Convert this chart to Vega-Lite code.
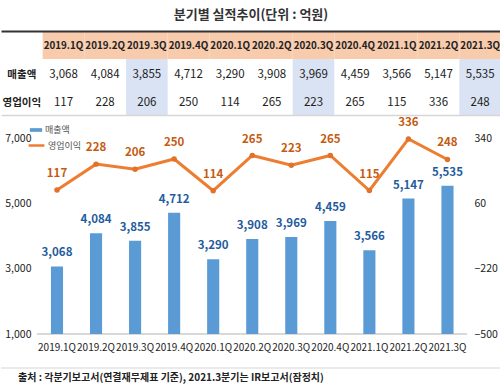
{
  "$schema": "https://vega.github.io/schema/vega-lite/v6.json",
  "padding": {"top": 9, "left": 0, "right": 0, "bottom": 0},
  "background": "white",
  "config": {
    "font": "Noto Sans CJK KR",
    "view": {"stroke": null},
    "axis": {"grid": false}
  },
  "title": {"text": "분기별 실적추이(단위 : 억원)", "fontSize": 13, "fontWeight": "bold", "color": "#333", "anchor": "middle", "offset": 9, "font": "Noto Sans CJK KR"},
  "datasets": {
    "tbl": [
      {"q": "2019.1Q", "매출액": 3068, "영업이익": 117},
      {"q": "2019.2Q", "매출액": 4084, "영업이익": 228},
      {"q": "2019.3Q", "매출액": 3855, "영업이익": 206},
      {"q": "2019.4Q", "매출액": 4712, "영업이익": 250},
      {"q": "2020.1Q", "매출액": 3290, "영업이익": 114},
      {"q": "2020.2Q", "매출액": 3908, "영업이익": 265},
      {"q": "2020.3Q", "매출액": 3969, "영업이익": 223},
      {"q": "2020.4Q", "매출액": 4459, "영업이익": 265},
      {"q": "2021.1Q", "매출액": 3566, "영업이익": 115},
      {"q": "2021.2Q", "매출액": 5147, "영업이익": 336},
      {"q": "2021.3Q", "매출액": 5535, "영업이익": 248}
    ],
    "foot": [{"t": "출처 : 각분기보고서(연결재무제표 기준), 2021.3분기는 IR보고서(잠정치)", "x": 17, "y": 15, "ly": 25}]
  },
  "spacing": 1,
  "resolve": {"legend": {"fill": "independent", "stroke": "independent"}},
  "vconcat": [
    {
      "width": 500,
      "height": 84,
      "data": {"name": "tbl"},
      "layer": [
        {
          "mark": {"type": "rect", "fill": "#f8cbad"},
          "encoding": {
            "x": {"field": "q", "type": "nominal", "sort": null,
              "scale": {"domain": [" ", "2019.1Q", "2019.2Q", "2019.3Q", "2019.4Q", "2020.1Q", "2020.2Q", "2020.3Q", "2020.4Q", "2021.1Q", "2021.2Q", "2021.3Q"], "paddingInner": 0, "paddingOuter": 0},
              "axis": {"orient": "top", "domain": true, "domainColor": "#333", "domainWidth": 2, "ticks": false, "labels": false, "title": null}},
            "y": {"datum": "h", "type": "nominal", "scale": {"domain": ["h", "매출액", "영업이익"], "paddingInner": 0, "paddingOuter": 0}, "axis": null}
          }
        },
        {
          "transform": [{"filter": "indexof(datum.q, '3Q') > 0"}, {"fold": ["매출액", "영업이익"], "as": ["row", "val"]}],
          "mark": {"type": "rect", "fill": "#dae3f3"},
          "encoding": {
            "x": {"field": "q", "type": "nominal", "sort": null,
              "axis": {"orient": "bottom", "domain": true, "domainColor": "#d6d6d6", "domainWidth": 1.5, "ticks": false, "labels": false, "title": null}},
            "y": {"field": "row", "type": "nominal", "axis": null}
          }
        },
        {
          "mark": {"type": "text", "fontSize": 9.8, "fontWeight": "bold", "color": "#222", "dy": 1},
          "encoding": {
            "x": {"field": "q", "type": "nominal", "sort": null, "axis": null},
            "y": {"datum": "h", "type": "nominal"},
            "text": {"field": "q"}
          }
        },
        {
          "transform": [{"fold": ["매출액", "영업이익"], "as": ["row", "val"]}],
          "mark": {"type": "text", "fontSize": 11.5, "color": "#222", "dy": 2},
          "encoding": {
            "x": {"field": "q", "type": "nominal", "sort": null, "axis": null},
            "y": {"field": "row", "type": "nominal"},
            "text": {"field": "val", "format": ","}
          }
        },
        {
          "transform": [{"filter": "datum.q == '2019.1Q'"}, {"fold": ["매출액", "영업이익"], "as": ["row", "val"]}],
          "mark": {"type": "text", "fontSize": 10.5, "fontWeight": "bold", "color": "#222", "dy": 2},
          "encoding": {
            "x": {"datum": " ", "type": "nominal", "axis": null},
            "y": {"field": "row", "type": "nominal"},
            "text": {"field": "row"}
          }
        }
      ],
      "resolve": {"axis": {"x": "independent"}}
    },
    {
      "width": 466,
      "height": 196,
      "data": {"name": "tbl"},
      "encoding": {
        "x": {"field": "q", "type": "nominal", "sort": null,
          "scale": {"domain": ["2019.1Q", "2019.2Q", "2019.3Q", "2019.4Q", "2020.1Q", "2020.2Q", "2020.3Q", "2020.4Q", "2021.1Q", "2021.2Q", "2021.3Q"], "paddingInner": 0, "paddingOuter": 0.467, "align": 1},
          "axis": {"title": null, "labelAngle": 0, "ticks": false, "domain": false, "labelFontSize": 10, "labelColor": "#222", "labelPadding": 8}}
      },
      "layer": [
        {
          "encoding": {
            "y": {"field": "매출액", "type": "quantitative",
              "scale": {"domain": [1000, 7000], "zero": false, "nice": false},
              "axis": {"title": null, "values": [1000, 3000, 5000, 7000], "format": ",d", "ticks": false, "domain": false, "labelFontSize": 10.5, "labelColor": "#222", "labelPadding": 6, "offset": -36}}
          },
          "layer": [
            {
              "mark": {"type": "rule", "color": "#d9d9d9", "strokeWidth": 1.5},
              "encoding": {
                "x": {"datum": "2019.1Q", "bandPosition": 0},
                "x2": {"datum": "2021.3Q", "bandPosition": 1},
                "y": {"datum": 1000}
              }
            },
            {
              "mark": {"type": "bar", "width": {"band": 0.31}},
              "encoding": {
                "y2": {"datum": 1000},
                "fill": {"datum": "매출액", "type": "nominal",
                  "scale": {"range": ["#5b9bd5"]},
                  "legend": {"title": null, "orient": "none", "legendX": 28, "legendY": -15, "symbolType": "M-1,-0.3L1,-0.3L1,0.3L-1,0.3Z", "symbolSize": 150, "labelFontSize": 9, "labelColor": "#555", "labelOffset": 2, "padding": 0}}
              }
            },
            {
              "mark": {"type": "text", "dy": -13, "fontSize": 11.5, "fontWeight": "bold", "color": "#1f5c9e"},
              "encoding": {"text": {"field": "매출액", "format": ","}}
            }
          ]
        },
        {
          "encoding": {
            "y": {"field": "영업이익", "type": "quantitative",
              "scale": {"domain": [-500, 340], "zero": false, "nice": false},
              "axis": {"orient": "right", "title": null, "values": [-500, -220, 60, 340], "format": "d", "ticks": false, "domain": false, "labelFontSize": 10.5, "labelColor": "#222", "labelPadding": 7}}
          },
          "layer": [
            {
              "mark": {"type": "line", "strokeWidth": 3},
              "encoding": {
                "stroke": {"datum": "영업이익", "type": "nominal", "scale": {"range": ["#ed7d31"]},
                  "legend": {"title": null, "orient": "none", "legendX": 26, "legendY": -2, "symbolType": "stroke", "symbolStrokeWidth": 2.5, "symbolSize": 250, "labelFontSize": 9, "labelColor": "#555", "labelOffset": 2, "padding": 0}}
              }
            },
            {
              "mark": {"type": "circle", "size": 30, "color": "#e0722a", "opacity": 1},
              "encoding": {}
            },
            {
              "mark": {"type": "text", "dy": -16, "fontSize": 11.5, "fontWeight": "bold", "color": "#c55a11"},
              "encoding": {"text": {"field": "영업이익"}}
            }
          ]
        }
      ],
      "resolve": {"scale": {"y": "independent"}}
    },
    {
      "width": 500,
      "height": 40,
      "data": {"name": "foot"},
      "layer": [
        {
          "mark": {"type": "rule", "color": "#e3e3e3", "strokeWidth": 1.5},
          "encoding": {
            "y": {"field": "ly", "type": "quantitative", "scale": {"domain": [0, 40], "nice": false, "zero": false}, "axis": null}
          }
        },
        {
          "mark": {"type": "text", "align": "left", "fontSize": 10, "fontWeight": "bold", "color": "#222"},
          "encoding": {
            "x": {"field": "x", "type": "quantitative", "scale": {"domain": [0, 500], "nice": false}, "axis": null},
            "y": {"field": "y", "type": "quantitative"},
            "text": {"field": "t"}
          }
        }
      ]
    }
  ]
}
